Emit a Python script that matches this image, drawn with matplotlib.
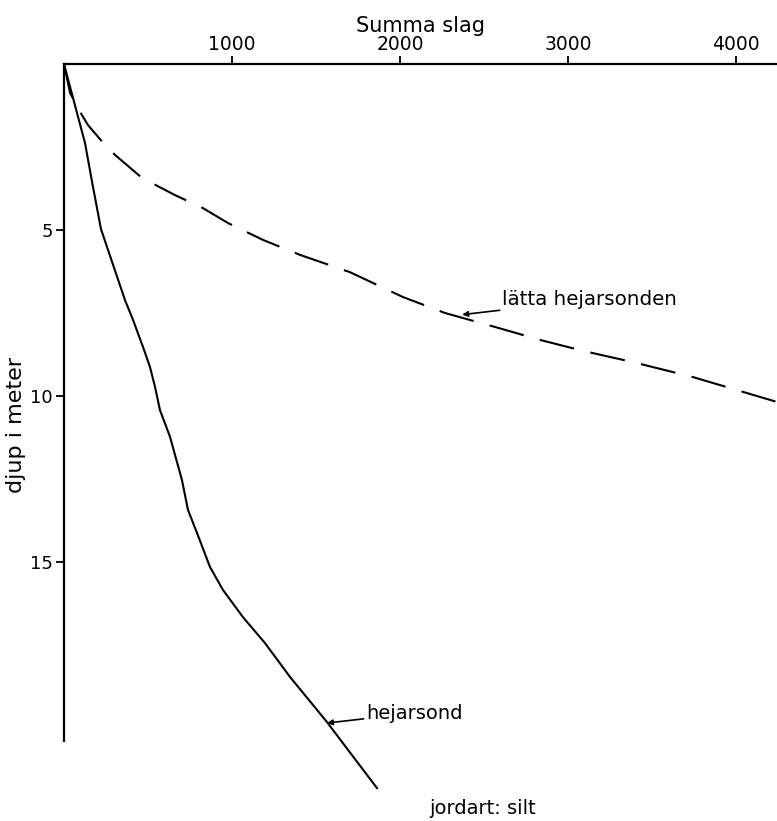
import matplotlib
matplotlib.use("Agg")
import matplotlib.pyplot as plt

# hejarsond (solid)
hs_slag = [0, 125, 167, 220, 262, 363, 411, 470, 512, 542, 571, 631, 702, 738,
           792, 869, 946, 1065, 1196, 1345, 1565, 1863]
hs_djup = [0, 2.38, 3.55, 4.97, 5.6, 7.11, 7.71, 8.52, 9.13, 9.73, 10.42, 11.23,
           12.53, 13.43, 14.13, 15.15, 15.84, 16.66, 17.44, 18.46, 19.82, 21.81]

# lätta hejarsonden (dashed)
lh_slag = [0, 36, 107, 143, 244, 304, 464, 661, 827, 976, 1185, 1405, 1702, 2018,
           2268, 2565, 2833, 3089, 3387, 3744, 4024, 4244]
lh_djup = [0, 0.87, 1.54, 1.84, 2.44, 2.74, 3.43, 3.95, 4.34, 4.79, 5.30, 5.75,
           6.27, 7.02, 7.5, 7.92, 8.31, 8.64, 8.98, 9.43, 9.85, 10.18]

x_ticks = [1000, 2000, 3000, 4000]
y_ticks = [5, 10, 15]

plt.rcParams['font.family'] = 'DejaVu Sans'
fs = 14

fig = plt.figure(figsize=(7.77, 8.21), dpi=100)
ax = fig.add_axes([64 / 777, 1 - 811 / 821, 1 - 64 / 777, (811 - 64) / 821])

ax.plot(hs_slag, hs_djup, color='black', lw=1.5, clip_on=False)
ax.plot(lh_slag, lh_djup, color='black', lw=1.5, dashes=[17, 8], clip_on=False)

ax.set_xlim(0, 4244)
ax.set_ylim(22.5, 0)

ax.xaxis.tick_top()
ax.xaxis.set_label_position('top')
ax.set_xticks(x_ticks)
ax.set_yticks(y_ticks)
ax.tick_params(axis='x', direction='out', length=6, width=1.3, pad=1, labelsize=13.5)
ax.tick_params(axis='y', direction='out', length=6, width=1.3, pad=2, labelsize=13)

for s in ['right', 'bottom']:
    ax.spines[s].set_visible(False)
ax.spines['top'].set_linewidth(1.6)
ax.spines['left'].set_linewidth(1.6)
ax.spines['left'].set_bounds(0, 20.4)

ax.set_xlabel('Summa slag', fontsize=15, labelpad=2)
fig.text(16 / 777, 1 - 425 / 821, 'djup i meter', rotation=90,
         ha='center', va='center', fontsize=16)

ax.annotate('lätta hejarsonden', xy=(2370, 7.55), xytext=(2610, 7.1),
            fontsize=14.3, va='center', ha='left',
            arrowprops=dict(arrowstyle='-|>', color='black', lw=1.2,
                            mutation_scale=8, shrinkA=0, shrinkB=0))
ax.annotate('hejarsond', xy=(1565, 19.85), xytext=(1800, 19.55),
            fontsize=fs, va='center', ha='left',
            arrowprops=dict(arrowstyle='-|>', color='black', lw=1.2,
                            mutation_scale=8, shrinkA=0, shrinkB=0))

fig.text(483 / 777, 1 - 808 / 821, 'jordart: silt', ha='center', va='center',
         fontsize=fs)

fig.savefig('out.png', dpi=100)
